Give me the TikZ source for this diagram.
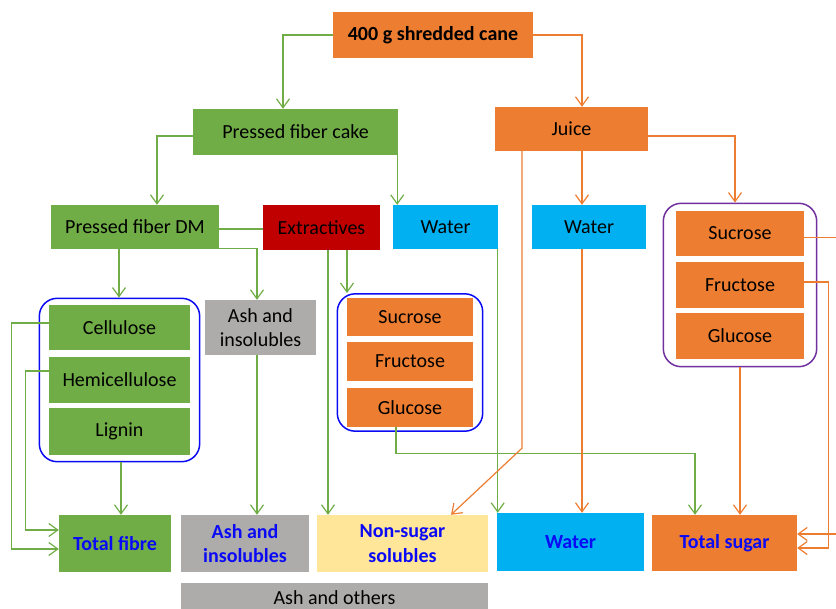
\documentclass[tikz,border=0pt]{standalone}
\usepackage{fontspec}
\setmainfont{Carlito}
\usetikzlibrary{arrows.meta,fit}
\definecolor{corange}{HTML}{ED7D31}
\definecolor{cgreen}{HTML}{70AD47}
\definecolor{ccyan}{HTML}{00B0F0}
\definecolor{cred}{HTML}{C00000}
\definecolor{cgray}{HTML}{AEABAB}
\definecolor{cyellow}{HTML}{FFE699}
\definecolor{cpurple}{HTML}{7030A0}
\definecolor{cblue}{HTML}{0A0AF5}
\tikzset{
    box/.style={inner sep=0pt,align=center,font=\fontsize{20}{24.5}\selectfont},
    total/.style={box,text=cblue,font=\fontsize{20}{24.5}\selectfont\bfseries},
    sz/.style 2 args={minimum width=#1pt,minimum height=#2pt},
    grp/.style={rounded corners=18pt,line width=1.5pt,inner sep=0pt},
    gline/.style={draw=cgreen,line width=1.2pt},
    oline/.style={draw=corange,line width=1.2pt},
    garrow/.style={gline,-{Straight Barb[length=9pt,width=13pt]}},
    oarrow/.style={oline,-{Straight Barb[length=9pt,width=13pt]}}
}
\begin{document}
\begin{tikzpicture}[x=1pt,y=-1pt]
    \useasboundingbox (0,0) rectangle (836,609);
    \node[box,fill=corange,sz={200}{46},font=\fontsize{20}{24.5}\selectfont\bfseries] (cane) at (433,35) {400 g shredded cane};
    \node[box,fill=cgreen,sz={205}{46}] (cake) at (295.5,132) {Pressed fiber cake};
    \node[box,fill=corange,sz={153}{44}] (juice) at (571.5,129) {Juice};
    \node[box,fill=cgreen,sz={168}{44}] (dm) at (135,227) {Pressed fiber DM};
    \node[box,fill=cred,sz={117}{45}] (extr) at (321.5,227.5) {Extractives};
    \node[box,fill=ccyan,sz={105}{44}] (water1) at (445.5,227) {Water};
    \node[box,fill=ccyan,sz={114}{44}] (water2) at (589,227) {Water};
    %sugars of the juice
    \node[box,fill=corange,sz={128}{45}] (suc3) at (740,233.5) {Sucrose};
    \node[box,fill=corange,sz={128}{46}] (fru3) at (740,285) {Fructose};
    \node[box,fill=corange,sz={128}{46}] (glu3) at (740,336) {Glucose};
    \node[grp,draw=cpurple,fit=(suc3)(glu3),inner xsep=12.5pt,inner ysep=7.5pt] (sugjuice) {};
    %fibre parts
    \node[box,fill=cgreen,sz={141}{45}] (cell) at (119.5,327.5) {Cellulose};
    \node[box,fill=cgreen,sz={141}{46}] (hemi) at (119.5,380) {Hemicellulose};
    \node[box,fill=cgreen,sz={141}{47}] (lig) at (119.5,431.5) {Lignin};
    \node[grp,draw=cblue,fit=(cell)(lig),inner xsep=9.5pt,inner ysep=6.5pt] (fibreparts) {};
    \node[box,fill=cgray,sz={111}{55}] (ash1) at (260.5,327.5) {Ash and\\insolubles};
    %sugars of the extractives
    \node[box,fill=corange,sz={126}{38}] (suc2) at (410,317) {Sucrose};
    \node[box,fill=corange,sz={126}{39}] (fru2) at (410,361.5) {Fructose};
    \node[box,fill=corange,sz={126}{39}] (glu2) at (410,407.5) {Glucose};
    \node[grp,draw=cblue,fit=(suc2)(glu2),inner xsep=9.5pt,inner ysep=4pt] (sugextr) {};
    %totals
    \node[total,fill=cgreen,sz={112}{57}] (fibre) at (115,543.5) {Total fibre};
    \node[total,fill=cgray,sz={128}{57}] (ash2) at (245,543.5) {Ash and\\insolubles};
    \node[total,fill=cyellow,sz={171}{57}] (nonsug) at (402.5,543.5) {Non-sugar\\solubles};
    \node[total,fill=ccyan,sz={147}{58}] (water3) at (570.5,542) {Water};
    \node[total,fill=corange,sz={145}{56}] (sugar) at (724.5,543) {Total sugar};
    \node[box,fill=cgray,sz={307}{30}] (others) at (334.5,597.5) {Ash and others};
    %cane
    \draw[garrow] (cane.west) -| ([xshift=-12.5pt]cake.north);
    \draw[oarrow] (cane.east) -| ([xshift=10.5pt]juice.north);
    %fibre side
    \draw[garrow] ([yshift=-4pt]cake.west) -| ([xshift=22pt]dm.north);
    \draw[garrow] ([xshift=-1pt]cake.south east) -- ([xshift=-1pt]cake.south east |- water1.north);
    \draw[gline] ([yshift=-2pt]dm.east) -- ([yshift=-2pt]dm.east -| extr.west);
    \draw[garrow] ([yshift=0.5pt]dm.south east) -| ([xshift=-3.5pt]ash1.north);
    \draw[garrow] ([xshift=-16pt]dm.south) -- ([xshift=-16pt]dm.south |- fibreparts.north);
    \draw[garrow] ([xshift=6.5pt]extr.south) -- ([xshift=6.5pt]extr.south |- nonsug.north);
    \draw[garrow] ([xshift=25.5pt]extr.south) -- ([xshift=25.5pt]extr.south |- sugextr.north);
    \draw[garrow] ([xshift=-3.5pt]ash1.south) -- ([xshift=-3.5pt]ash1.south |- ash2.north);
    \draw[garrow] ([xshift=1.5pt]fibreparts.south) -- ([xshift=1.5pt]fibreparts.south |- fibre.north);
    \draw[garrow] ([yshift=4.5pt]cell.west) -- ++(-37,0) |- ([yshift=-5.5pt]fibre.west);
    \draw[garrow] ([yshift=9pt]hemi.west) -- ++(-23,0) |- ([yshift=13.5pt]fibre.west);
    \draw[garrow] ([xshift=-14pt]glu2.south) -- ++(0,26) -| ([xshift=-29.5pt]sugar.north);
    \draw[garrow] ([xshift=-0.5pt]water1.south east) -- ([xshift=-0.5pt]water1.south east |- water3.north);
    %juice side
    \draw[oarrow] ([xshift=10.5pt]juice.south) -- ([xshift=10.5pt]juice.south |- water2.north);
    \draw[oarrow] ([yshift=-7pt]juice.east) -| ([xshift=-5pt]sugjuice.north);
    \draw[oarrow] ([xshift=-49.5pt]juice.south) -- ++(0,297) -- ([xshift=48.5pt]nonsug.north);
    \draw[oarrow] ([xshift=-7pt]water2.south) -- ([xshift=-7pt]water2.south |- water3.north);
    \draw[oarrow] (sugjuice.south) -- (sugjuice.south |- sugar.north);
    \draw[oarrow] ([yshift=-4pt]suc3.east) -- ++(40,0) |- ([yshift=9pt]sugar.east);
    \draw[oarrow] ([yshift=3pt]fru3.east) -- ++(24,0) |- ([yshift=-5pt]sugar.east);
\end{tikzpicture}
\end{document}
